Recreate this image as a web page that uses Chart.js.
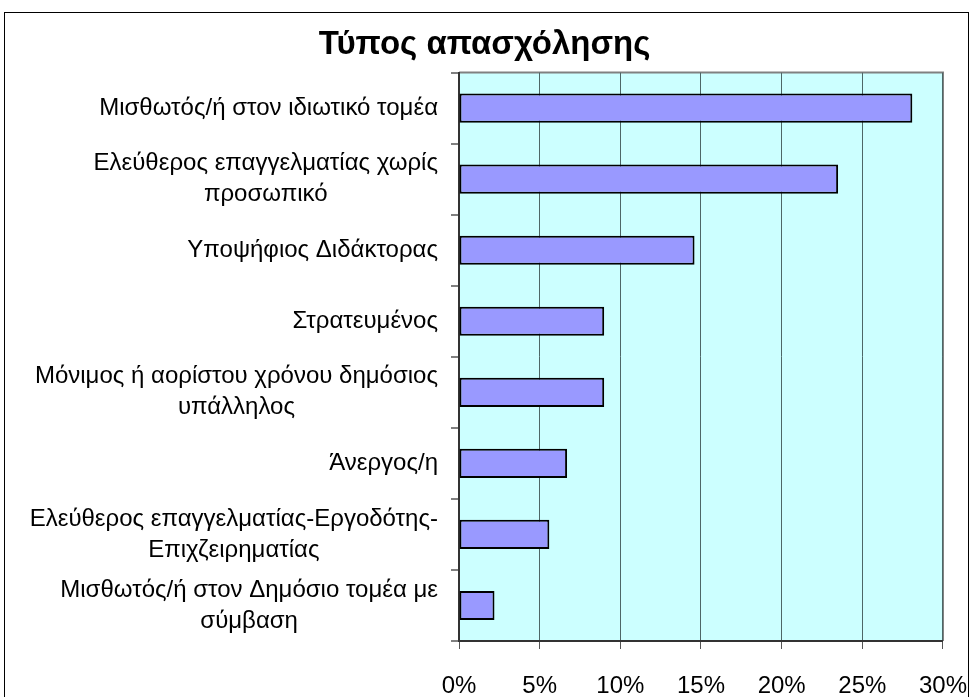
<!DOCTYPE html>
<html>
<head>
<meta charset="utf-8">
<script src="https://cdn.jsdelivr.net/npm/chart.js@4.4.1/dist/chart.umd.min.js"></script>
<style>
  html, body { margin: 0; padding: 0; background: #fff; overflow: hidden; }
  #wrap { position: relative; width: 969px; height: 697px; }
  #frame { position: absolute; left: 4px; top: 12px; width: 963px; height: 720px; border: 1px solid #000; pointer-events: none; }
</style>
</head>
<body>
<div id="wrap">
  <canvas id="chart" width="969" height="697"></canvas>
  <div id="frame"></div>
</div>
<script>
// categories (multi-line labels as arrays)
const categories = [
    'Μισθωτός/ή στον ιδιωτικό τομέα',
    ['Ελεύθερος επαγγελματίας χωρίς', 'προσωπικό'],
    'Υποψήφιος Διδάκτορας',
    'Στρατευμένος',
    ['Μόνιμος ή αορίστου χρόνου δημόσιος', 'υπάλληλος'],
    'Άνεργος/η',
    ['Ελεύθερος επαγγελματίας-Εργοδότης-', 'Επιχζειρηματίας'],
    ['Μισθωτός/ή στον Δημόσιο τομέα με', 'σύμβαση']
];
// percentages
const shares = [28.1, 23.5, 14.6, 9.0, 9.0, 6.7, 5.6, 2.2];
const titleText = 'Τύπος απασχόλησης';

const fontFamily = '"Liberation Sans", Arial, sans-serif';

// light cyan plot area with grey top/right edge
const plotBackground = {
    id: 'plotBackground',
    beforeDraw(chart) {
        const { ctx, chartArea: a } = chart;
        ctx.save();
        ctx.fillStyle = '#CCFFFF';
        ctx.fillRect(a.left, a.top, a.right - a.left, a.bottom - a.top);
        ctx.strokeStyle = '#808080';
        ctx.lineWidth = 2;
        ctx.beginPath();
        ctx.moveTo(a.left, a.top);
        ctx.lineTo(a.right, a.top);
        ctx.lineTo(a.right, a.bottom);
        ctx.stroke();
        ctx.restore();
    }
};

// category labels: block right-aligned, lines centred inside the block
const categoryLabels = {
    id: 'categoryLabels',
    afterDraw(chart) {
        const { ctx } = chart;
        const y = chart.scales.y;
        const rightEdge = y.right - 8 - 13;
        const lineH = 31;
        ctx.save();
        ctx.font = '24px ' + fontFamily;
        ctx.fillStyle = '#000';
        ctx.textAlign = 'center';
        ctx.textBaseline = 'middle';
        categories.forEach((lab, i) => {
            const lines = Array.isArray(lab) ? lab : [lab];
            const w = Math.max(...lines.map(l => ctx.measureText(l).width));
            const cx = rightEdge - w / 2;
            const cy = y.getPixelForValue(i);
            lines.forEach((l, k) => {
                ctx.fillText(l, cx, cy + (k - (lines.length - 1) / 2) * lineH);
            });
        });
        ctx.restore();
    }
};

const ctx = document.getElementById('chart').getContext('2d');
new Chart(ctx, {
    type: 'bar',
    data: {
        labels: categories,
        datasets: [{
            data: shares,
            backgroundColor: '#9999FF',
            borderColor: '#000000',
            borderWidth: 2,
            borderSkipped: false,
            barPercentage: 0.41,
            categoryPercentage: 1
        }]
    },
    options: {
        indexAxis: 'y',
        responsive: false,
        animation: false,
        layout: { padding: { left: 0, right: 0, top: 0, bottom: 0 } },
        plugins: {
            legend: { display: false },
            tooltip: { enabled: false },
            title: {
                display: true,
                text: titleText,
                color: '#000',
                font: { family: fontFamily, size: 33, weight: 'bold' },
                padding: { top: 25, bottom: 8 }
            }
        },
        scales: {
            x: {
                min: 0,
                max: 30,
                ticks: {
                    stepSize: 5,
                    color: '#000',
                    padding: 2,
                    font: { family: fontFamily, size: 24, lineHeight: 2.96 },
                    callback: v => v + '%'
                },
                grid: { color: '#4d6666', lineWidth: 1, tickLength: 8, tickColor: '#555' },
                border: { display: true, color: '#333', width: 2 },
                afterFit(scale) { scale.height = 56; }
            },
            y: {
                ticks: { display: false },
                grid: { drawOnChartArea: false, tickLength: 8, color: '#808080', lineWidth: 2 },
                border: { display: true, color: '#333', width: 2 },
                afterFit(scale) { scale.width = 459; }
            }
        }
    },
    plugins: [plotBackground, categoryLabels]
});
</script>
</body>
</html>
